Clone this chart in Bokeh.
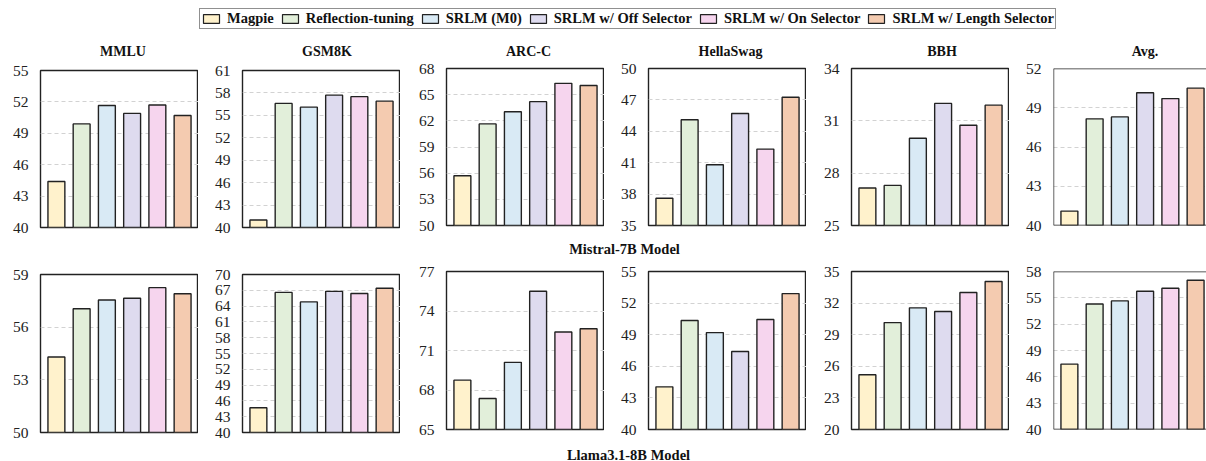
from bokeh.plotting import figure
from bokeh.models import (ColumnDataSource, FixedTicker, Range1d, Legend, LegendItem,
                          Label, Span)
from bokeh.layouts import column, row
from bokeh.embed import file_html
from bokeh.resources import INLINE

# ---------------- data ----------------
categories = ["Magpie", "Reflection-tuning", "SRLM (M0)", "SRLM w/ Off Selector",
              "SRLM w/ On Selector", "SRLM w/ Length Selector"]
colors = ["#FFF2CC", "#E2EFDA", "#D9EAF5", "#DEDBEF", "#F6D5EE", "#F4CBB0"]
benchmarks = ["MMLU", "GSM8K", "ARC-C", "HellaSwag", "BBH", "Avg."]

mistral_mmlu = [44.4, 49.9, 51.65, 50.9, 51.7, 50.7]
mistral_gsm8k = [41.0, 56.6, 56.1, 57.7, 57.5, 56.9]
mistral_arcc = [55.7, 61.65, 63.05, 64.2, 66.3, 66.05]
mistral_hellaswag = [37.6, 45.1, 40.8, 45.7, 42.3, 47.25]
mistral_bbh = [27.15, 27.3, 30.0, 32.0, 30.75, 31.9]
mistral_avg = [41.1, 48.15, 48.3, 50.15, 49.7, 50.5]

llama_mmlu = [54.3, 57.05, 57.55, 57.65, 58.25, 57.9]
llama_gsm8k = [44.7, 66.6, 64.8, 66.8, 66.4, 67.4]
llama_arcc = [68.75, 67.35, 70.1, 75.5, 72.4, 72.65]
llama_hellaswag = [44.05, 50.35, 49.2, 47.4, 50.45, 52.9]
llama_bbh = [25.2, 30.15, 31.55, 31.2, 33.0, 34.05]
llama_avg = [47.45, 54.3, 54.65, 55.75, 56.1, 57.0]

mistral_limits = [(40, 55), (40, 61), (50, 68), (35, 50), (25, 34), (40, 52)]
llama_limits = [(50, 59), (40, 70), (65, 77), (40, 55), (20, 35), (40, 58)]
tick_step = 3

row_labels = ["Mistral-7B Model", "Llama3.1-8B Model"]

mistral_vals = [mistral_mmlu, mistral_gsm8k, mistral_arcc, mistral_hellaswag, mistral_bbh, mistral_avg]
llama_vals = [llama_mmlu, llama_gsm8k, llama_arcc, llama_hellaswag, llama_bbh, llama_avg]

# ---------------- style / layout ----------------
FONT = "Liberation Serif"
EDGE = "#222222"
frame_left = [40, 44, 46, 44, 45, 44]
frame_w = [158, 158, 158, 158, 158, 153]
title_x = [122.5, 326.5, 528, 730, 941.5, 1144.5]   # page px of each panel title centre
PX_PER_UNIT = 25.24
X0 = -0.63
TOTAL_W = sum(a + b for a, b in zip(frame_left, frame_w))


def make_panel(vals, lims, i, top, bottom, height, frame_h):
    lo, hi = lims
    last = (i == 5)
    x_end = X0 + frame_w[i] / PX_PER_UNIT
    p = figure(width=frame_left[i] + frame_w[i], height=height,
               x_range=Range1d(X0, x_end), y_range=Range1d(lo, hi),
               output_backend="svg", toolbar_location=None,
               min_border_left=frame_left[i], min_border_right=0,
               min_border_top=top, min_border_bottom=bottom,
               title=None)
    p.frame_height = frame_h
    p.frame_width = frame_w[i]
    p.xaxis.visible = False
    p.xgrid.visible = False
    ticks = list(range(lo, hi + 1, tick_step))
    p.yaxis.ticker = FixedTicker(ticks=ticks)
    p.ygrid.ticker = FixedTicker(ticks=ticks)
    p.yaxis.axis_line_color = None
    p.yaxis.major_tick_line_color = None
    p.yaxis.minor_tick_line_color = None
    p.yaxis.major_tick_out = 0
    p.yaxis.major_label_standoff = 12
    p.yaxis.major_label_text_font = FONT
    p.yaxis.major_label_text_font_size = "15.5px"
    p.yaxis.major_label_text_color = "#222222"
    p.ygrid.grid_line_color = "#d2d2d2"
    p.ygrid.grid_line_dash = "4 3"
    p.ygrid.grid_line_width = 1
    p.background_fill_color = "white"
    if last:
        p.outline_line_color = None
        for loc, dim in [(lo, "width"), (hi, "width"), (X0, "height")]:
            p.add_layout(Span(location=loc, dimension=dim, line_color=EDGE, line_width=1.4))
    else:
        p.outline_line_color = EDGE
        p.outline_line_width = 1.4
        p.outline_line_alpha = 1.0
    src = ColumnDataSource(dict(x=list(range(len(categories))), top=vals, color=colors))
    p.vbar(x="x", top="top", bottom=lo, width=0.67, fill_color="color",
           line_color=EDGE, line_width=1.4, source=src)
    return p


def strip(height):
    return figure(width=TOTAL_W, height=height, x_range=Range1d(0, TOTAL_W),
                  y_range=Range1d(0, height), output_backend="svg",
                  toolbar_location=None, min_border=0, title=None,
                  x_axis_type=None, y_axis_type=None, outline_line_color=None)


def add_text(f, text, cx, cy, size="14.5px"):
    f.add_layout(Label(x=cx, y=cy, text=text, text_align="center", text_baseline="middle",
                       text_font=FONT, text_font_style="bold", text_font_size=size,
                       text_color="#111111"))


# legend strip (its swatch renderers sit outside the visible range)
lf = strip(42)
items = []
for c, col in zip(categories, colors):
    r = lf.vbar(x=[-50], top=[-40], bottom=[-45], width=5, fill_color=col,
                line_color=EDGE, line_width=1.2)
    items.append(LegendItem(label=c, renderers=[r]))
leg = Legend(items=items, orientation="horizontal", location=(199, 13),
             glyph_width=20, glyph_height=11, label_standoff=6, spacing=6,
             padding=1, margin=0, label_height=11,
             label_text_font=FONT, label_text_font_style="bold",
             label_text_font_size="14.5px", label_text_color="#111111",
             border_line_color=EDGE, border_line_width=1.4,
             background_fill_color="white", background_fill_alpha=1.0)
lf.add_layout(leg)

# panel titles strip (page y 42..59)
TITLE_STRIP_H = 17
tf = strip(TITLE_STRIP_H)
for name, tx in zip(benchmarks, title_x):
    add_text(tf, name, tx, 8.5, size="14px")

ROW1_H = 238 - 42 - TITLE_STRIP_H
top_figs = []
for i in range(6):
    t = 11 if i < 2 else 9
    top_figs.append(make_panel(mistral_vals[i], mistral_limits[i], i,
                               t, ROW1_H - t - 157, ROW1_H, 157))
bot_figs = []
for i in range(6):
    t = 16 if i < 2 else 13
    bot_figs.append(make_panel(llama_vals[i], llama_limits[i], i,
                               t, 183 - t - 158, 183, 158))

lab1 = strip(20)
add_text(lab1, row_labels[0], 624, 10)
lab2 = strip(20)
add_text(lab2, row_labels[1], 628, 7)

layout = column(lf, tf,
                row(*[column(f) for f in top_figs]),
                lab1,
                row(*[column(f) for f in bot_figs]),
                lab2)

open("out.html", "w").write(file_html(layout, INLINE))
